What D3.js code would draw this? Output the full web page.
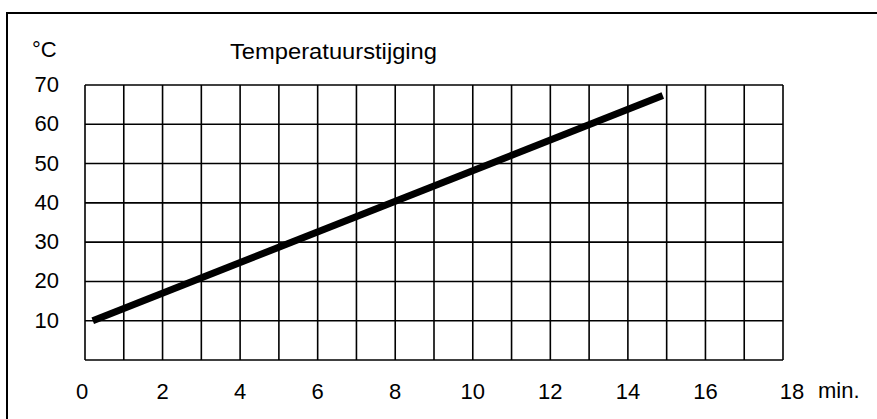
<!DOCTYPE html>
<html><head><meta charset="utf-8">
<script src="https://cdn.jsdelivr.net/npm/d3@7"></script>
<style>body{margin:0;background:#fff;} text{font-family:"Liberation Sans",Arial,sans-serif;fill:#000;}</style>
</head><body>
<svg id="c" width="877" height="419"></svg>
<script>
const xTicks = [0, 2, 4, 6, 8, 10, 12, 14, 16, 18];
const yTicks = [10, 20, 30, 40, 50, 60, 70];
const xGrid = d3.range(0, 19, 1);
const yGrid = d3.range(0, 71, 10);
const lineX = [0.2, 14.9];
const lineY = [10, 67.3];
const title = "Temperatuurstijging";
const yUnit = "°C";
const xUnit = "min.";

const svg = d3.select("#c");
const x = d3.scaleLinear().domain([0, 18]).range([85, 783]);
const y = d3.scaleLinear().domain([0, 70]).range([360, 85]);

// outer frame (top and left visible)
svg.append("path").attr("d", "M7,420 L7,13 L878,13").attr("fill","none").attr("stroke","#000").attr("stroke-width",2);

const g = svg.append("g");
g.selectAll("line.v").data(xGrid).join("line").attr("class","v")
  .attr("x1", d=>x(d)).attr("x2", d=>x(d)).attr("y1", y(0)).attr("y2", y(70))
  .attr("stroke","#000").attr("stroke-width",1.6);
g.selectAll("line.h").data(yGrid).join("line").attr("class","h")
  .attr("x1", x(0)).attr("x2", x(18)).attr("y1", d=>y(d)).attr("y2", d=>y(d))
  .attr("stroke","#000").attr("stroke-width",1.6);

svg.selectAll("text.xt").data(xTicks).join("text").attr("class","xt")
  .attr("x", d=>x(d) + (d===18?9:(d===0?-3:0))).attr("y", 399).attr("text-anchor","middle")
  .attr("font-size", 22).text(d=>d);
svg.append("text").attr("x", 818).attr("y", 398).attr("font-size",22).text(xUnit);

svg.selectAll("text.yt").data(yTicks).join("text").attr("class","yt")
  .attr("x", 59).attr("y", d=>y(d)+7).attr("text-anchor","end")
  .attr("font-size", 22).text(d=>d);
svg.append("text").attr("x", 32).attr("y", 57).attr("font-size",22).text(yUnit);

svg.append("text").attr("x", 230).attr("y", 59).attr("font-size",22)
  .attr("textLength", 207).attr("lengthAdjust","spacingAndGlyphs").text(title);

const pts = lineX.map((v,i)=>[v, lineY[i]]);
svg.append("path").attr("d", d3.line().x(d=>x(d[0])).y(d=>y(d[1]))(pts))
  .attr("fill","none").attr("stroke","#000").attr("stroke-width",7).attr("stroke-linecap","butt");
</script>
</body></html>
